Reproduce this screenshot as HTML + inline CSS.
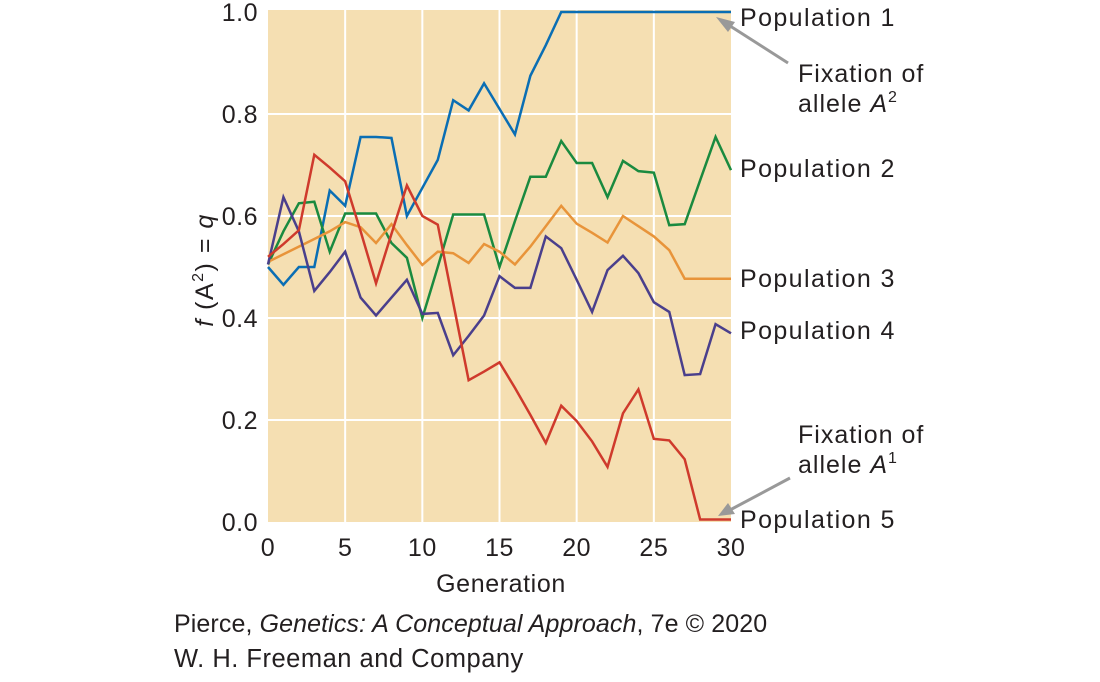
<!DOCTYPE html>
<html><head><meta charset="utf-8"><style>
html,body{margin:0;padding:0;background:#fff;}
svg text{font-family:"Liberation Sans","DejaVu Sans",sans-serif;fill:#231f20;}
</style></head><body>
<svg id="chart" width="1100" height="677" viewBox="0 0 1100 677" xmlns="http://www.w3.org/2000/svg">
<rect x="268" y="10" width="463" height="512" fill="#f5dfb2"/>
<g id="grid"></g>
<g id="series"></g>
<g id="ticks"></g>
<text x="501" y="592" font-size="25" letter-spacing="0.6" text-anchor="middle">Generation</text>
<text transform="translate(213,270) rotate(-90)" font-size="25" letter-spacing="1.5" text-anchor="middle"><tspan font-style="italic">f</tspan> (A<tspan font-size="16" dy="-10">2</tspan><tspan dy="10">) = </tspan><tspan font-style="italic">q</tspan></text>
<g id="labels"></g>
<g>
<text x="798" y="82" font-size="25" letter-spacing="1">Fixation of</text>
<text x="798" y="112" font-size="25" letter-spacing="1">allele <tspan font-style="italic">A</tspan><tspan font-size="16" dy="-10">2</tspan></text>
<line x1="788" y1="63" x2="727" y2="24" stroke="#999" stroke-width="3"/>
<polygon points="716,17 735,22 728,32" fill="#999"/>
</g>
<g>
<text x="798" y="443" font-size="25" letter-spacing="1">Fixation of</text>
<text x="798" y="473" font-size="25" letter-spacing="1">allele <tspan font-style="italic">A</tspan><tspan font-size="16" dy="-10">1</tspan></text>
<line x1="790" y1="478" x2="730" y2="510" stroke="#999" stroke-width="3"/>
<polygon points="718,516 728,503 735,514" fill="#999"/>
</g>
<text x="174" y="632" font-size="25" letter-spacing="0.1">Pierce, <tspan font-style="italic">Genetics: A Conceptual Approach</tspan>, 7e © 2020</text>
<text x="174" y="667" font-size="25.5" letter-spacing="0.5">W. H. Freeman and Company</text>
</svg>
<script>
const generations=[0,1,2,3,4,5,6,7,8,9,10,11,12,13,14,15,16,17,18,19,20,21,22,23,24,25,26,27,28,29,30];
const pop1=[0.50,0.465,0.50,0.50,0.65,0.62,0.755,0.755,0.753,0.60,0.655,0.71,0.827,0.807,0.86,0.81,0.76,0.875,0.935,1,1,1,1,1,1,1,1,1,1,1,1];
const pop2=[0.505,0.57,0.625,0.628,0.53,0.605,0.605,0.605,0.547,0.518,0.40,0.50,0.603,0.603,0.603,0.50,0.59,0.677,0.677,0.747,0.704,0.704,0.637,0.708,0.688,0.685,0.582,0.584,0.67,0.755,0.69];
const pop3=[0.51,0.525,0.54,0.555,0.57,0.588,0.578,0.547,0.584,0.543,0.504,0.53,0.527,0.508,0.545,0.53,0.505,0.54,0.58,0.62,0.585,0.567,0.548,0.60,0.58,0.56,0.533,0.477,0.477,0.477,0.477];
const pop4=[0.505,0.637,0.57,0.453,0.49,0.53,0.44,0.405,0.44,0.475,0.408,0.41,0.327,0.365,0.405,0.482,0.459,0.459,0.56,0.537,0.475,0.412,0.494,0.522,0.488,0.431,0.412,0.288,0.29,0.388,0.37];
const pop5=[0.52,0.545,0.572,0.72,0.695,0.668,0.57,0.468,0.565,0.66,0.60,0.583,0.43,0.278,0.295,0.313,0.263,0.21,0.155,0.228,0.198,0.158,0.108,0.213,0.26,0.163,0.16,0.123,0.005,0.005,0.005];
const seriesColors=["#0a6eb4","#1a8a3f","#e8943a","#4a3f8c","#cf3a2c"];
const seriesNames=["Population 1","Population 2","Population 3","Population 4","Population 5"];
const xTicks=[0,5,10,15,20,25,30];
const yTicks=[0,0.2,0.4,0.6,0.8,1.0];
const yTickLabels=["0.0","0.2","0.4","0.6","0.8","1.0"];

const NS="http://www.w3.org/2000/svg";
const X0=268,X1=731,Y0=522,Y1=12;
function xs(g){return X0+(g-0)/(30-0)*(X1-X0);}
function ys(v){return Y0-(v-0)/(1-0)*(Y0-Y1);}
function mk(tag,attrs,parent){const e=document.createElementNS(NS,tag);for(const k in attrs)e.setAttribute(k,attrs[k]);parent.appendChild(e);return e;}
const grid=document.getElementById('grid'),ticks=document.getElementById('ticks'),ser=document.getElementById('series'),labs=document.getElementById('labels');
xTicks.forEach(t=>{
 if(t>0&&t<30){const l=mk('line',{x1:xs(t),x2:xs(t),y1:10,y2:522,stroke:'#fff','stroke-width':2},grid);
 
 }
 const tx=mk('text',{x:xs(t),y:556,'font-size':25,'letter-spacing':0.5,'text-anchor':'middle'},ticks);tx.textContent=t;
 
 
});
yTicks.forEach((t,i)=>{
 if(t>0&&t<1){const l=mk('line',{x1:268,x2:731,y1:ys(t),y2:ys(t),stroke:'#fff','stroke-width':2},grid);
 
 }
 const tx=mk('text',{x:258,y:ys(t)+9,'font-size':25,'letter-spacing':0.5,'text-anchor':'end'},ticks);tx.textContent=yTickLabels[i];
 
 
});
const all=[pop1,pop2,pop3,pop4,pop5];
const labelY=[17,168,278,330,519];
all.forEach((s,i)=>{
 const p=mk('polyline',{points:s.map((v,j)=>xs(generations[j])+','+ys(v)).join(' '),fill:'none',stroke:seriesColors[i],'stroke-width':2.5,'stroke-linejoin':'miter'},ser);
 
 
 const t=mk('text',{x:740,y:labelY[i]+9,'font-size':25,'letter-spacing':1.4},labs);t.textContent=seriesNames[i];
 
 
});
</script>
</body></html>
